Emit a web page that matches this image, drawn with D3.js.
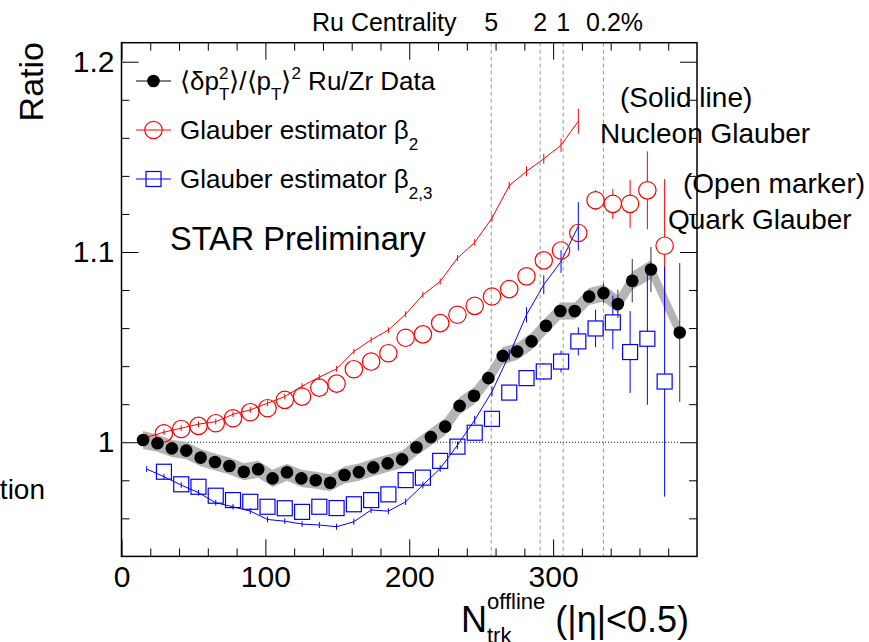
<html>

<head>
    <script src="https://d3js.org/d3.v7.min.js"></script>
    <style>
        body { margin: 0; background: #fff; }
        text { font-family: "Liberation Sans", Arial, Helvetica, sans-serif; fill: #000; }
    </style>
</head>

<body>
    <svg id="chartArea" width="869" height="642"></svg>
    <script>
        // Ru/Zr data: <dpT^2>/<pT>^2 ratio
        const dataX = [15, 25, 35, 45, 55, 65, 75, 85, 95, 105, 115, 125, 135, 145, 155, 165, 175, 185, 195, 205,
            215, 225, 235, 245, 255, 265, 275, 285, 295, 305, 315, 325, 335, 345, 355, 368, 388];
        const dataY = [1.0012, 0.9995, 0.9968, 0.9956, 0.9919, 0.9896, 0.9875, 0.9845, 0.9858, 0.9810,
            0.9842, 0.9810, 0.9800, 0.9787, 0.9828, 0.9843, 0.9868, 0.9889, 0.9910, 0.9974,
            1.0027, 1.0082, 1.0191, 1.0244, 1.0337, 1.0454, 1.0477, 1.0530, 1.0612, 1.0690,
            1.0690, 1.0766, 1.0784, 1.0727, 1.0849, 1.0908, 1.0577];
        const dataStat = [0.002, 0.002, 0.002, 0.002, 0.002, 0.002, 0.002, 0.002, 0.002, 0.002,
            0.002, 0.002, 0.002, 0.002, 0.002, 0.002, 0.002, 0.002, 0.002, 0.002,
            0.002, 0.002, 0.002, 0.002, 0.002, 0.002, 0.002, 0.002, 0.002, 0.0025,
            0.003, 0.0035, 0.005, 0.0074, 0.0114, 0.0118, 0.0365];
        const dataSys = [0.0047, 0.0045, 0.0045, 0.0045, 0.0045, 0.0045, 0.0045, 0.0045, 0.0045, 0.0045,
            0.0045, 0.0045, 0.0045, 0.0045, 0.0045, 0.0045, 0.0045, 0.0045, 0.0045, 0.0045,
            0.0045, 0.0045, 0.0045, 0.0045, 0.0045, 0.0045, 0.0045, 0.0045, 0.0045, 0.0045,
            0.0045, 0.0045, 0.0045, 0.0045, 0.0048, 0.005, 0.005];

        // Nucleon Glauber (solid lines)
        const nucleonX = [17.5, 29.5, 41.5, 53.5, 65.5, 77.5, 89.5, 101.5, 113.5, 125.5, 137.5, 149.5, 161.5,
            173.5, 185.5, 197.5, 209.5, 221.5, 233.5, 245.5, 257.5, 269.5, 281.5, 293.5, 305.5, 317.5];
        const nucleonB2 = [1.0026, 1.0053, 1.0074, 1.0095, 1.0108, 1.0147, 1.0170, 1.0205, 1.0240, 1.0295,
            1.0342, 1.0386, 1.0477, 1.0538, 1.0590, 1.0673, 1.0775, 1.0845, 1.0968, 1.1050,
            1.1178, 1.1349, 1.1424, 1.1490, 1.1561, 1.1687];
        const nucleonB2Err = [0.0015, 0.0015, 0.0015, 0.0015, 0.0015, 0.0015, 0.0015, 0.0015, 0.0015, 0.0015,
            0.0015, 0.0015, 0.0015, 0.0015, 0.0015, 0.0016, 0.0016, 0.0016, 0.0016, 0.0017,
            0.0018, 0.002, 0.0026, 0.0026, 0.0035, 0.0066];
        const nucleonB23 = [0.9859, 0.9819, 0.9775, 0.9735, 0.9682, 0.9661, 0.9638, 0.9594, 0.9585, 0.9570,
            0.9565, 0.9556, 0.9582, 0.9644, 0.9638, 0.9687, 0.9775, 0.9862, 0.9984, 1.0117,
            1.0266, 1.0460, 1.0670, 1.0828, 1.0950, 1.1135];
        const nucleonB23Err = [0.0015, 0.0015, 0.0015, 0.0015, 0.0015, 0.0015, 0.0015, 0.0015, 0.0015, 0.0015,
            0.0016, 0.0016, 0.0016, 0.0016, 0.0016, 0.0017, 0.0018, 0.0018, 0.002, 0.0022,
            0.0025, 0.003, 0.004, 0.005, 0.006, 0.0127];

        // Quark Glauber (open markers)
        const quarkX = [29.5, 41.5, 53.5, 65.5, 77.5, 89.5, 101.5, 113.5, 125.5, 137.5, 149.5, 161.5, 173.5,
            185.5, 197.5, 209.5, 221.5, 233.5, 245.5, 257.5, 269.5, 281.5, 293.5, 305.5, 317.5,
            329.5, 341.5, 353.5, 365.5, 377.5];
        const quarkB2 = [1.0047, 1.0070, 1.0086, 1.0100, 1.0126, 1.0158, 1.0179, 1.0223, 1.0240, 1.0287,
            1.0308, 1.0384, 1.0424, 1.0468, 1.0549, 1.0567, 1.0626, 1.0670, 1.0717, 1.0766,
            1.0805, 1.0872, 1.0956, 1.1008, 1.1100, 1.1272, 1.1253, 1.1253, 1.1324, 1.1033];
        const quarkB2Err = [0.002, 0.002, 0.002, 0.002, 0.002, 0.002, 0.002, 0.002, 0.002, 0.002,
            0.002, 0.002, 0.002, 0.002, 0.002, 0.002, 0.002, 0.002, 0.002, 0.002,
            0.002, 0.0025, 0.003, 0.0035, 0.004, 0.0053, 0.0079, 0.0126, 0.0205, 0.035];
        const quarkB23 = [0.9845, 0.9779, 0.9766, 0.9719, 0.9696, 0.9687, 0.9661, 0.9653, 0.9634, 0.9661,
            0.9654, 0.9674, 0.9696, 0.9726, 0.9801, 0.9814, 0.9902, 0.9977, 1.0050, 1.0123,
            1.0261, 1.0337, 1.0372, 1.0424, 1.0530, 1.0598, 1.0630, 1.0474, 1.0544, 1.0319];
        const quarkB23Err = [0.002, 0.002, 0.002, 0.002, 0.002, 0.002, 0.002, 0.002, 0.002, 0.002,
            0.002, 0.002, 0.002, 0.002, 0.002, 0.002, 0.002, 0.002, 0.0025, 0.0028,
            0.003, 0.0035, 0.0044, 0.0057, 0.0074, 0.0098, 0.0141, 0.0215, 0.0347, 0.0605];

        // Ru centrality marks on top axis
        const centLabels = ["5", "2", "1", "0.2"];
        const centX = [257, 291, 307, 335];

        // ticks
        const xMajor = [0, 100, 200, 300];
        const xMinor = [20, 40, 60, 80, 120, 140, 160, 180, 220, 240, 260, 280, 320, 340, 360, 380];
        const yMajor = [1, 1.1, 1.2];
        const yMinor = [0.96, 0.98, 1.02, 1.04, 1.06, 1.08, 1.12, 1.14, 1.16, 1.18];
        const yLabels = ["1", "1.1", "1.2"];

        const svg = d3.select("#chartArea");
        const margins = { top: 42.7, right: 172, bottom: 85.6, left: 121.5 };
        const chartWidth = 869 - margins.left - margins.right;
        const chartHeight = 642 - margins.top - margins.bottom;

        const xScale = d3.scaleLinear().domain([0, 400]).range([0, chartWidth]);
        const yScale = d3.scaleLinear().domain([0.94, 1.21]).range([chartHeight, 0]);

        let chartArea = svg.append("g")
            .attr("transform", `translate(${margins.left},${margins.top})`);

        // centrality dashed lines
        chartArea.selectAll(".cent")
            .data(centX)
            .join("line")
            .attr("x1", d => xScale(d)).attr("x2", d => xScale(d))
            .attr("y1", 0).attr("y2", chartHeight)
            .attr("stroke", "#999").attr("stroke-width", 1)
            .attr("stroke-dasharray", "4,3");

        // unity line
        chartArea.append("line")
            .attr("x1", xScale(dataX[0])).attr("x2", xScale(dataX[dataX.length - 1]))
            .attr("y1", yScale(1)).attr("y2", yScale(1))
            .attr("stroke", "#000").attr("stroke-width", 1)
            .attr("stroke-dasharray", "1,2");

        // systematic band
        const band = d3.area()
            .x((d, i) => xScale(dataX[i]))
            .y0((d, i) => yScale(d - dataSys[i]))
            .y1((d, i) => yScale(d + dataSys[i]));
        chartArea.append("path")
            .attr("d", band(dataY))
            .attr("fill", "#b4b4b4");

        // helper for vertical error bars, with an optional gap for open markers
        function errorBars(g, xs, ys, errs, color, gap) {
            const segs = [];
            xs.forEach((x, i) => {
                const px = xScale(x), py = yScale(ys[i]);
                const top = yScale(ys[i] + errs[i]), bot = yScale(ys[i] - errs[i]);
                if (py - top > gap) segs.push([px, top, px, py - gap]);
                if (bot - py > gap) segs.push([px, py + gap, px, bot]);
            });
            g.selectAll(null)
                .data(segs)
                .join("line")
                .attr("x1", d => d[0]).attr("y1", d => d[1])
                .attr("x2", d => d[2]).attr("y2", d => d[3])
                .attr("stroke", color).attr("stroke-width", 1);
        }

        // nucleon glauber lines
        const lineGenerator = d3.line()
            .x((d, i) => xScale(nucleonX[i]))
            .y(d => yScale(d));
        chartArea.append("path")
            .attr("d", lineGenerator(nucleonB2))
            .attr("fill", "none").attr("stroke", "#ff0000").attr("stroke-width", 1);
        errorBars(chartArea, nucleonX, nucleonB2, nucleonB2Err, "#ff0000", 0);
        chartArea.append("path")
            .attr("d", lineGenerator(nucleonB23))
            .attr("fill", "none").attr("stroke", "#0000ff").attr("stroke-width", 1);
        errorBars(chartArea, nucleonX, nucleonB23, nucleonB23Err, "#0000ff", 0);

        // quark glauber open markers
        errorBars(chartArea, quarkX, quarkB2, quarkB2Err, "#ff0000", 8.7);
        chartArea.selectAll(".qb2")
            .data(quarkB2)
            .join("circle")
            .attr("cx", (d, i) => xScale(quarkX[i]))
            .attr("cy", d => yScale(d))
            .attr("r", 8.7)
            .attr("fill", "none").attr("stroke", "#ff0000").attr("stroke-width", 1.2);

        errorBars(chartArea, quarkX, quarkB23, quarkB23Err, "#0000ff", 7.5);
        chartArea.selectAll(".qb23")
            .data(quarkB23)
            .join("rect")
            .attr("x", (d, i) => xScale(quarkX[i]) - 7.5)
            .attr("y", d => yScale(d) - 7.5)
            .attr("width", 15).attr("height", 15)
            .attr("fill", "none").attr("stroke", "#0000ff").attr("stroke-width", 1.2);

        // data points
        errorBars(chartArea, dataX, dataY, dataStat, "#333", 0);
        chartArea.selectAll(".pt")
            .data(dataY)
            .join("circle")
            .attr("cx", (d, i) => xScale(dataX[i]))
            .attr("cy", d => yScale(d))
            .attr("r", 6.3)
            .attr("fill", "#000");

        // axes (ROOT style: ticks inside, on all four sides)
        function styleAxis(g) {
            g.select(".domain").remove();
            g.selectAll("line").attr("stroke", "#000");
            g.selectAll("text").style("font-size", "30px")
                .style("font-family", '"Liberation Sans", Arial, sans-serif');
        }
        chartArea.append("g").attr("transform", `translate(0,${chartHeight})`)
            .call(d3.axisBottom(xScale).tickValues(xMajor).tickSize(-17).tickPadding(9).tickFormat(d => d))
            .call(styleAxis);
        chartArea.append("g").attr("transform", `translate(0,${chartHeight})`)
            .call(d3.axisBottom(xScale).tickValues(xMinor).tickSize(-8).tickFormat(""))
            .call(styleAxis);
        chartArea.append("g")
            .call(d3.axisTop(xScale).tickValues(xMajor).tickSize(-17).tickFormat(""))
            .call(styleAxis);
        chartArea.append("g")
            .call(d3.axisTop(xScale).tickValues(xMinor).tickSize(-8).tickFormat(""))
            .call(styleAxis);
        chartArea.append("g")
            .call(d3.axisLeft(yScale).tickValues(yMajor).tickSize(-17).tickPadding(7)
                .tickFormat((d, i) => yLabels[i]))
            .call(styleAxis);
        chartArea.append("g")
            .call(d3.axisLeft(yScale).tickValues(yMinor).tickSize(-8).tickFormat(""))
            .call(styleAxis);
        chartArea.append("g").attr("transform", `translate(${chartWidth},0)`)
            .call(d3.axisRight(yScale).tickValues(yMajor).tickSize(-17).tickFormat(""))
            .call(styleAxis);
        chartArea.append("g").attr("transform", `translate(${chartWidth},0)`)
            .call(d3.axisRight(yScale).tickValues(yMinor).tickSize(-8).tickFormat(""))
            .call(styleAxis);

        chartArea.append("rect")
            .attr("width", chartWidth).attr("height", chartHeight)
            .attr("fill", "none").attr("stroke", "#000").attr("stroke-width", 1.5);

        // text with sub/superscripts
        function richText(g, x, y, parts) {
            let cx = x, stackW = 0;
            parts.forEach(p => {
                const t = g.append("text")
                    .attr("x", cx).attr("y", y + (p.dy || 0))
                    .style("font-size", p.size + "px")
                    .attr("xml:space", "preserve")
                    .text(p.t);
                const w = t.node().getComputedTextLength();
                if (p.stack) { stackW = Math.max(stackW, w); }
                else { cx += Math.max(w, stackW); stackW = 0; }
            });
        }

        // centrality labels
        svg.append("text").attr("x", 312).attr("y", 31).style("font-size", "25px").text("Ru Centrality");
        centLabels.forEach((c, i) => {
            const t = svg.append("text")
                .attr("x", margins.left + xScale(centX[i])).attr("y", 31)
                .attr("text-anchor", "middle").style("font-size", "25px").text(c);
            if (c === "0.2") {
                const w = t.node().getComputedTextLength();
                svg.append("text").attr("x", margins.left + xScale(centX[i]) + w / 2).attr("y", 31)
                    .style("font-size", "25px").text("%");
            }
        });

        // legend
        const legend = svg.append("g");
        const legendRows = [
            { y: 81, color: "#000", marker: "dot" },
            { y: 130, color: "#ff0000", marker: "circle" },
            { y: 179, color: "#0000ff", marker: "square" }
        ];
        legendRows.forEach(r => {
            legend.append("line").attr("x1", 136).attr("x2", 171).attr("y1", r.y).attr("y2", r.y)
                .attr("stroke", r.color).attr("stroke-width", 1);
            if (r.marker === "dot") {
                legend.append("circle").attr("cx", 153.5).attr("cy", r.y).attr("r", 6.3).attr("fill", "#000");
            } else if (r.marker === "circle") {
                legend.append("circle").attr("cx", 153.5).attr("cy", r.y).attr("r", 8.7)
                    .attr("fill", "none").attr("stroke", r.color).attr("stroke-width", 1.2);
            } else {
                legend.append("rect").attr("x", 146).attr("y", r.y - 7.5).attr("width", 15).attr("height", 15)
                    .attr("fill", "none").attr("stroke", r.color).attr("stroke-width", 1.2);
            }
        });
        richText(legend, 180, 90, [
            { t: "⟨δp", size: 26 }, { t: "T", size: 17, dy: 10, stack: true }, { t: "2", size: 17, dy: -11 },
            { t: "⟩/⟨p", size: 26 }, { t: "T", size: 17, dy: 10 }, { t: "⟩", size: 26 },
            { t: "2", size: 17, dy: -11 }, { t: " Ru/Zr Data", size: 26 }
        ]);
        richText(legend, 180, 139, [{ t: "Glauber estimator β", size: 26 }, { t: "2", size: 17, dy: 11 }]);
        richText(legend, 180, 188, [{ t: "Glauber estimator β", size: 26 }, { t: "2,3", size: 17, dy: 11 }]);

        svg.append("text").attr("x", 170).attr("y", 250).style("font-size", "32.5px").text("STAR Preliminary");

        // model annotations
        svg.append("text").attr("x", 620).attr("y", 107).style("font-size", "28px").text("(Solid line)");
        svg.append("text").attr("x", 600).attr("y", 143).style("font-size", "28px").text("Nucleon Glauber");
        svg.append("text").attr("x", 683).attr("y", 193).style("font-size", "28px").text("(Open marker)");
        svg.append("text").attr("x", 668).attr("y", 229).style("font-size", "28px").text("Quark Glauber");

        // axis titles
        svg.append("text")
            .attr("transform", "translate(43,42) rotate(-90)")
            .attr("text-anchor", "end").style("font-size", "34px").text("Ratio");
        richText(svg, 461, 632, [
            { t: "N", size: 36 }, { t: "offline", size: 22, dy: -23, stack: true }, { t: "trk", size: 22, dy: 11 },
            { t: " (|η|<0.5)", size: 36 }
        ]);

        // cut-off text from a neighbouring panel
        svg.append("text").attr("x", 45).attr("y", 499).attr("text-anchor", "end")
            .style("font-size", "28px").text("ation");
    </script>
</body>

</html>
